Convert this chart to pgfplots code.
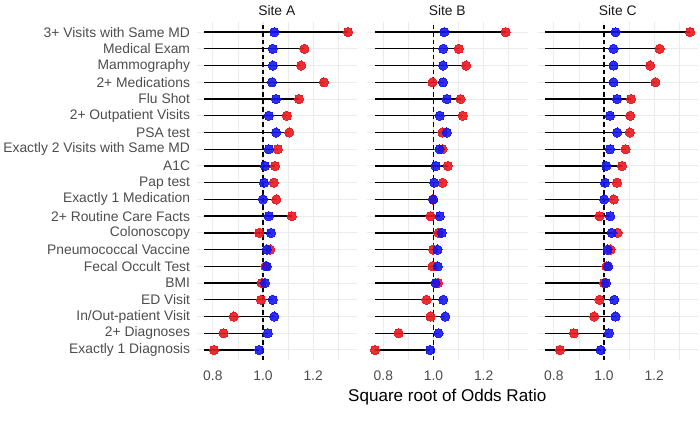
\documentclass[border=0pt]{standalone}
\usepackage{pgfplots}
\pgfplotsset{compat=1.18}
\usepackage{pgfplotstable}
\usepgfplotslibrary{groupplots}
\usetikzlibrary{calc}
\usepackage{fontspec}
\setmainfont{Liberation Sans}

\definecolor{ptred}{RGB}{232,24,30}
\definecolor{ptblue}{RGB}{22,22,236}
\definecolor{gridgray}{RGB}{235,235,235}
\definecolor{labgray}{RGB}{77,77,77}

% y: 20 = top row, 1 = bottom row; hi = max(red, blue)
\pgfplotstableread{
y red blue hi
20 1.339 1.045 1.339
19 1.165 1.039 1.165
18 1.152 1.039 1.152
17 1.243 1.036 1.243
16 1.143 1.052 1.143
15 1.095 1.023 1.095
14 1.105 1.052 1.105
13 1.059 1.023 1.059
12 1.048 1.008 1.048
11 1.043 1.004 1.043
10 1.053 1.000 1.053
9  1.115 1.023 1.115
8  0.985 1.032 1.032
7  1.029 1.015 1.029
6  1.010 1.015 1.015
5  0.995 1.008 1.008
4  0.992 1.039 1.039
3  0.883 1.045 1.045
2  0.843 1.019 1.019
1  0.805 0.985 0.985
}\siteA

\pgfplotstableread{
y red blue hi
20 1.288 1.043 1.288
19 1.101 1.039 1.101
18 1.130 1.038 1.130
17 0.996 1.038 1.038
16 1.108 1.053 1.108
15 1.117 1.025 1.117
14 1.036 1.053 1.053
13 1.036 1.024 1.036
12 1.057 1.009 1.057
11 1.036 1.003 1.036
10 0.998 0.999 0.999
9  0.988 1.025 1.025
8  1.020 1.033 1.033
7  0.999 1.016 1.016
6  0.996 1.017 1.017
5  1.018 1.008 1.018
4  0.972 1.039 1.039
3  0.988 1.047 1.047
2  0.861 1.020 1.020
1  0.766 0.987 0.987
}\siteB

\pgfplotstableread{
y red blue hi
20 1.344 1.046 1.344
19 1.222 1.038 1.222
18 1.184 1.038 1.184
17 1.205 1.038 1.205
16 1.108 1.052 1.108
15 1.105 1.024 1.105
14 1.103 1.052 1.103
13 1.086 1.024 1.086
12 1.072 1.009 1.072
11 1.052 1.004 1.052
10 1.039 1.001 1.039
9  0.982 1.025 1.025
8  1.054 1.031 1.054
7  1.026 1.014 1.026
6  1.010 1.017 1.017
5  1.000 1.008 1.008
4  0.982 1.041 1.041
3  0.961 1.046 1.046
2  0.880 1.020 1.020
1  0.824 0.987 0.987
}\siteC

\newcommand{\site}[1]{%
  \addplot[draw=none, mark=none, forget plot,
    error bars/.cd, x dir=minus, x explicit, error mark=none,
    error bar style={black, line width=1.3pt}]
    table[x=hi, y=y, x error minus expr=\thisrow{hi}-0.765] {#1};
  \addplot[black, line width=1.1pt, dash pattern=on 4.5pt off 3pt]
    coordinates {(1,0.4) (1,20.6)};
  \addplot[only marks, mark=*, mark size=4.6pt, color=ptred,
    mark options={draw=ptred, fill=ptred, line width=0pt, opacity=0.9}]
    table[x=red, y=y] {#1};
  \addplot[only marks, mark=*, mark size=4.6pt, color=ptblue,
    mark options={draw=ptblue, fill=ptblue, line width=0pt, opacity=0.9}]
    table[x=blue, y=y] {#1};
}

\begin{document}
\begin{tikzpicture}
\begin{groupplot}[
  group style={group size=3 by 1, horizontal sep=10pt, yticklabels at=edge left},
  scale only axis,
  width=160pt, height=337pt,
  xmin=0.735, xmax=1.375,
  ymin=0.4, ymax=20.6,
  axis line style={draw=none},
  major tick length=0pt, minor tick length=0pt,
  xtick={0.8,1.0,1.2}, xticklabels={0.8,1.0,1.2},
  minor xtick={0.9,1.1,1.3},
  ytick={1,...,20},
  yticklabels={Exactly 1 Diagnosis, 2+ Diagnoses, In/Out-patient Visit,
    ED Visit, BMI, Fecal Occult Test, Pneumococcal Vaccine, Colonoscopy,
    2+ Routine Care Facts, Exactly 1 Medication, Pap test, A1C,
    Exactly 2 Visits with Same MD, PSA test, 2+ Outpatient Visits,
    Flu Shot, 2+ Medications, Mammography, Medical Exam,
    3+ Visits with Same MD},
  xmajorgrids, xminorgrids, ymajorgrids,
  major grid style={gridgray, line width=1pt},
  minor grid style={gridgray, line width=0.6pt},
  tick label style={font=\fontsize{13.8}{14}\selectfont, text=labgray},
  xticklabel style={yshift=-7pt},
  yticklabel style={xshift=-3pt},
  title style={font=\fontsize{13.8}{14}\selectfont, text=black!90, yshift=-3pt},
  clip=false,
]
\nextgroupplot[title=Site A]
\site{\siteA}
\nextgroupplot[title=Site B,
  xlabel={Square root of Odds Ratio},
  xlabel style={font=\fontsize{17}{17}\selectfont, text=black, yshift=-2pt}]
\site{\siteB}
\nextgroupplot[title=Site C]
\site{\siteC}
\end{groupplot}
\pgfresetboundingbox
\path[use as bounding box] ($(group c1r1.south west)+(-196pt,-72pt)$)
  rectangle ($(group c3r1.north east)+(2pt,22pt)$);
\end{tikzpicture}
\end{document}
